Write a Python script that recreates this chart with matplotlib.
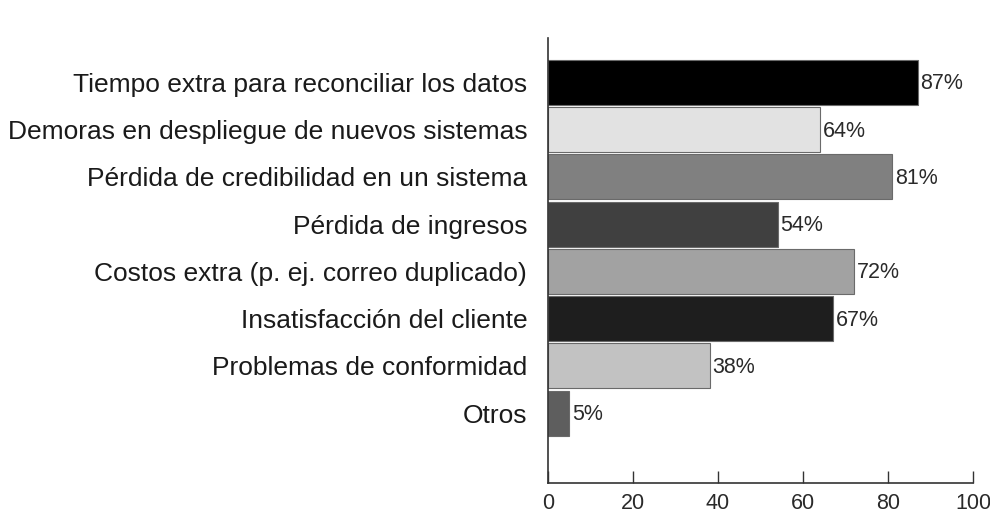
import matplotlib
matplotlib.use("Agg")
import matplotlib.pyplot as plt

categories = [
    "Tiempo extra para reconciliar los datos",
    "Demoras en despliegue de nuevos sistemas",
    "Pérdida de credibilidad en un sistema",
    "Pérdida de ingresos",
    "Costos extra (p. ej. correo duplicado)",
    "Insatisfacción del cliente",
    "Problemas de conformidad",
    "Otros",
]
values = [87, 64, 81, 54, 72, 67, 38, 5]
bar_colors = ["#000000", "#e2e2e2", "#808080", "#404040", "#a2a2a2", "#1e1e1e", "#c2c2c2", "#5e5e5e"]
xticks = [0, 20, 40, 60, 80, 100]

num_font = ["Liberation Sans Narrow", "Liberation Sans", "DejaVu Sans"]

fig = plt.figure(figsize=(9.9, 5.18), dpi=100)
ax = fig.add_axes([0.5535, 0.0676, 0.4295, 0.859])
y = list(range(len(categories)))
ax.barh(y, values, height=0.95, color=bar_colors, edgecolor="#6a6a6a", linewidth=0.8)
for yi, v in zip(y, values):
    ax.text(v + 0.6, yi + 0.03, f"{v}%", va="center", ha="left", fontsize=15.5,
            family=num_font, color="#2a2a2a")

ax.set_xlim(0, 100)
ax.set_ylim(len(categories) - 1 + 1.48, -0.94)
ax.set_yticks(y)
ax.set_yticklabels(categories, fontsize=19, family=["Liberation Sans", "DejaVu Sans"], color="#1a1a1a")
ax.set_xticks(xticks)
ax.set_xticklabels([str(t) for t in xticks], fontsize=15.5, family=num_font, color="#2a2a2a")
ax.tick_params(axis="y", length=0, pad=15)
ax.tick_params(axis="x", direction="in", length=8.5, width=1, pad=7, color="#333333")
for s in ["top", "right"]:
    ax.spines[s].set_visible(False)
for s in ["left", "bottom"]:
    ax.spines[s].set_linewidth(1.2)
    ax.spines[s].set_color("#333333")
fig.savefig("out.png", dpi=100)
